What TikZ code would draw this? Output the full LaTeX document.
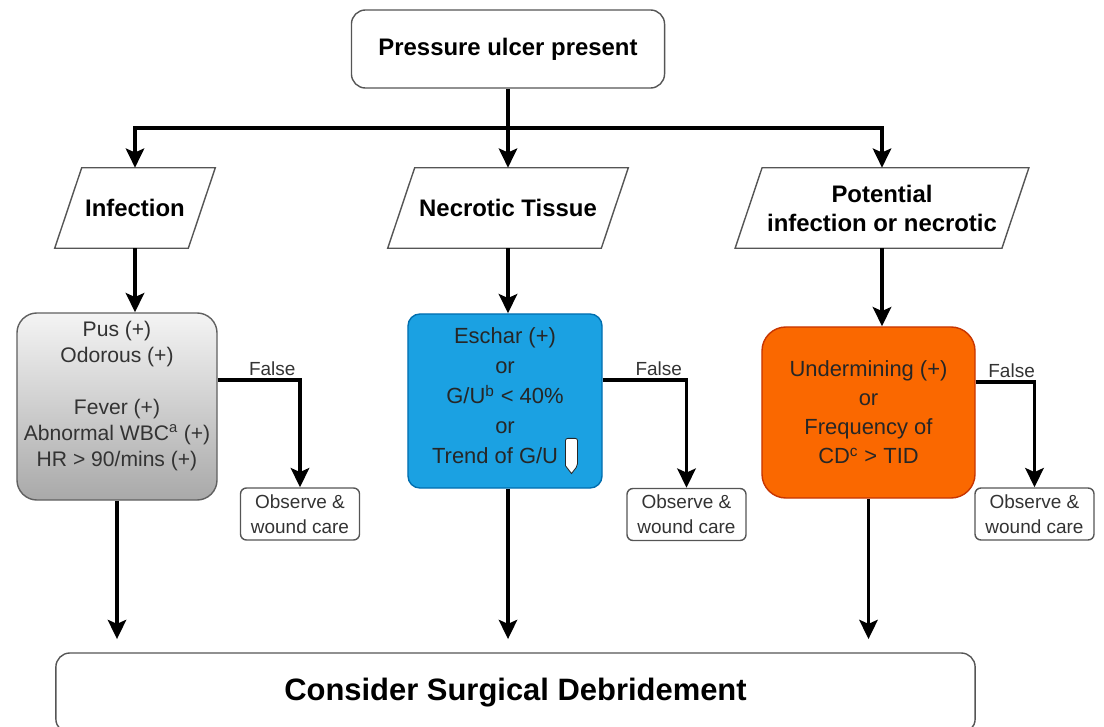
\documentclass[tikz,border=0pt]{standalone}
\usepackage{fontspec}
\setmainfont{Liberation Sans}
\usetikzlibrary{arrows.meta,calc}

\definecolor{boxline}{HTML}{555555}
\definecolor{graytop}{HTML}{F4F4F4}
\definecolor{graybot}{HTML}{A9A9A9}
\definecolor{bluefill}{HTML}{1BA1E2}
\definecolor{blueline}{HTML}{006EAF}
\definecolor{orangefill}{HTML}{FA6800}
\definecolor{orangeline}{HTML}{C73500}
\definecolor{softtext}{HTML}{333333}

\tikzset{
  roundbox/.style={draw=boxline, line width=1pt, rounded corners=0.35cm, inner sep=0pt, align=center},
  databox/.style={inner sep=0pt, align=center, font=\fontsize{17}{20.6}\selectfont\bfseries},
  slantline/.style={draw=boxline, line width=1pt},
  testbox/.style={inner sep=0pt, align=center, line width=1pt},
  observebox/.style={draw=boxline, line width=1pt, rounded corners=0.15cm, inner sep=0pt,
    minimum width=2.975cm, minimum height=1.3cm, align=center, text=softtext,
    font=\fontsize{13.5}{17.5}\selectfont},
  flow/.style={line width=2.4pt, -{Stealth[length=0.48cm,width=0.46cm,inset=0.1cm]}},
  falselabel/.style={text=softtext, font=\fontsize{13.5}{15}\selectfont, inner sep=2pt}
}

% small white marker after "Trend of G/U"
\newcommand{\trendmark}{\tikz[baseline=0pt]
  \draw[line width=0.6pt, fill=white, rounded corners=1.5pt]
    (0pt,-1.5pt) -- (0pt,18pt) -- (8.5pt,18pt) -- (8.5pt,-1.5pt) [sharp corners] -- (4.25pt,-7pt) -- cycle;}

\begin{document}
\begin{tikzpicture}[x=0.025cm, y=-0.025cm]
  \useasboundingbox (0,0) rectangle (1104,727);
  \clip (0,0) rectangle (1104,727);

  % Start box
  \node [roundbox, minimum width=7.825cm, minimum height=1.95cm,
         font=\fontsize{17}{20}\selectfont\bfseries] (ulcer) at (508,49) {Pressure ulcer present};

  % Three findings
  \node [databox, minimum width=4cm, minimum height=2cm] (infect) at (135,208) {Infection};
  \node [databox, minimum width=6cm, minimum height=2cm] (necro) at (508,208) {Necrotic Tissue};
  \node [databox, minimum width=7.33cm, minimum height=2cm] (potent) at (882,208) {Potential\\infection or necrotic};
  \foreach \n in {infect,necro,potent}
    \draw [slantline] ([xshift=0.675cm]\n.north west) -- (\n.north east)
      -- ([xshift=-0.675cm]\n.south east) -- (\n.south west) -- cycle;

  % Criteria boxes
  \node [testbox, draw=gray!75!black, rounded corners=0.5cm, top color=graytop, bottom color=graybot,
         minimum width=5cm, minimum height=4.675cm, text=softtext,
         font=\fontsize{15}{18.5}\selectfont] (signs) at (117,406.5)
        {Pus (+)\\Odorous (+)\\[18.5pt]Fever (+)\\Abnormal WBC\textsuperscript{a} (+)\\HR > 90/mins (+)\\\mbox{}};
  \node [testbox, draw=blueline, fill=bluefill, rounded corners=0.3cm,
         minimum width=4.85cm, minimum height=4.35cm, text=black!85,
         font=\fontsize{15.6}{21.3}\selectfont] (eschar) at (505,401)
        {Eschar (+)\\or\\G/U\textsuperscript{b} < 40\%\\or\\Trend of G/U\hspace{5pt}\trendmark};
  \node [testbox, draw=orangeline, fill=orangefill, rounded corners=0.6cm,
         minimum width=5.325cm, minimum height=4.275cm, text=black!85,
         font=\fontsize{15.6}{20.6}\selectfont] (under) at (868.5,412.5)
        {Undermining (+)\\or\\Frequency of\\CD\textsuperscript{c} > TID};

  % Observe boxes
  \node [observebox] (watch1) at (300,514) {Observe \&\\wound care};
  \node [observebox] (watch2) at (686.5,514.5) {Observe \&\\wound care};
  \node [observebox] (watch3) at (1034.5,514) {Observe \&\\wound care};

  % End box
  \node [roundbox, minimum width=22.975cm, minimum height=2cm,
         font=\fontsize{22}{24}\selectfont\bfseries] (debride) at (515.5,693) {Consider Surgical Debridement};

  % Split below the start box
  \coordinate (split) at (508,128);
  \draw [line width=2.4pt] (ulcer.south) -- (split);
  \draw [flow] (split) -- (necro.north);
  \draw [flow] (split) -| (infect.north);
  \draw [flow] (split) -| (potent.north);

  % Findings to criteria
  \draw [flow] (infect.south) -- (infect.south |- signs.north);
  \draw [flow] (necro.south) -- (necro.south |- eschar.north);
  \draw [flow] (potent.south) -- (potent.south |- under.north);

  % False branches
  \draw [flow] ([yshift=0.66cm]signs.east) -| node [falselabel, pos=0.5, above left] {False} (watch1.north);
  \draw [flow] ([yshift=0.525cm]eschar.east) -| node [falselabel, pos=0.5, above left] {False} (watch2.north);
  \draw [flow] ([yshift=0.76cm]under.east) -| node [falselabel, pos=0.5, above left, xshift=0.12cm] {False} (watch3.north);

  % Criteria to end box
  \draw [flow, shorten >=0.33cm] (signs.south) -- (signs.south |- debride.north);
  \draw [flow, shorten >=0.33cm] (necro.south |- eschar.south) -- (necro.south |- debride.north);
  \draw [flow, shorten >=0.33cm] (under.south) -- (under.south |- debride.north);
\end{tikzpicture}
\end{document}
